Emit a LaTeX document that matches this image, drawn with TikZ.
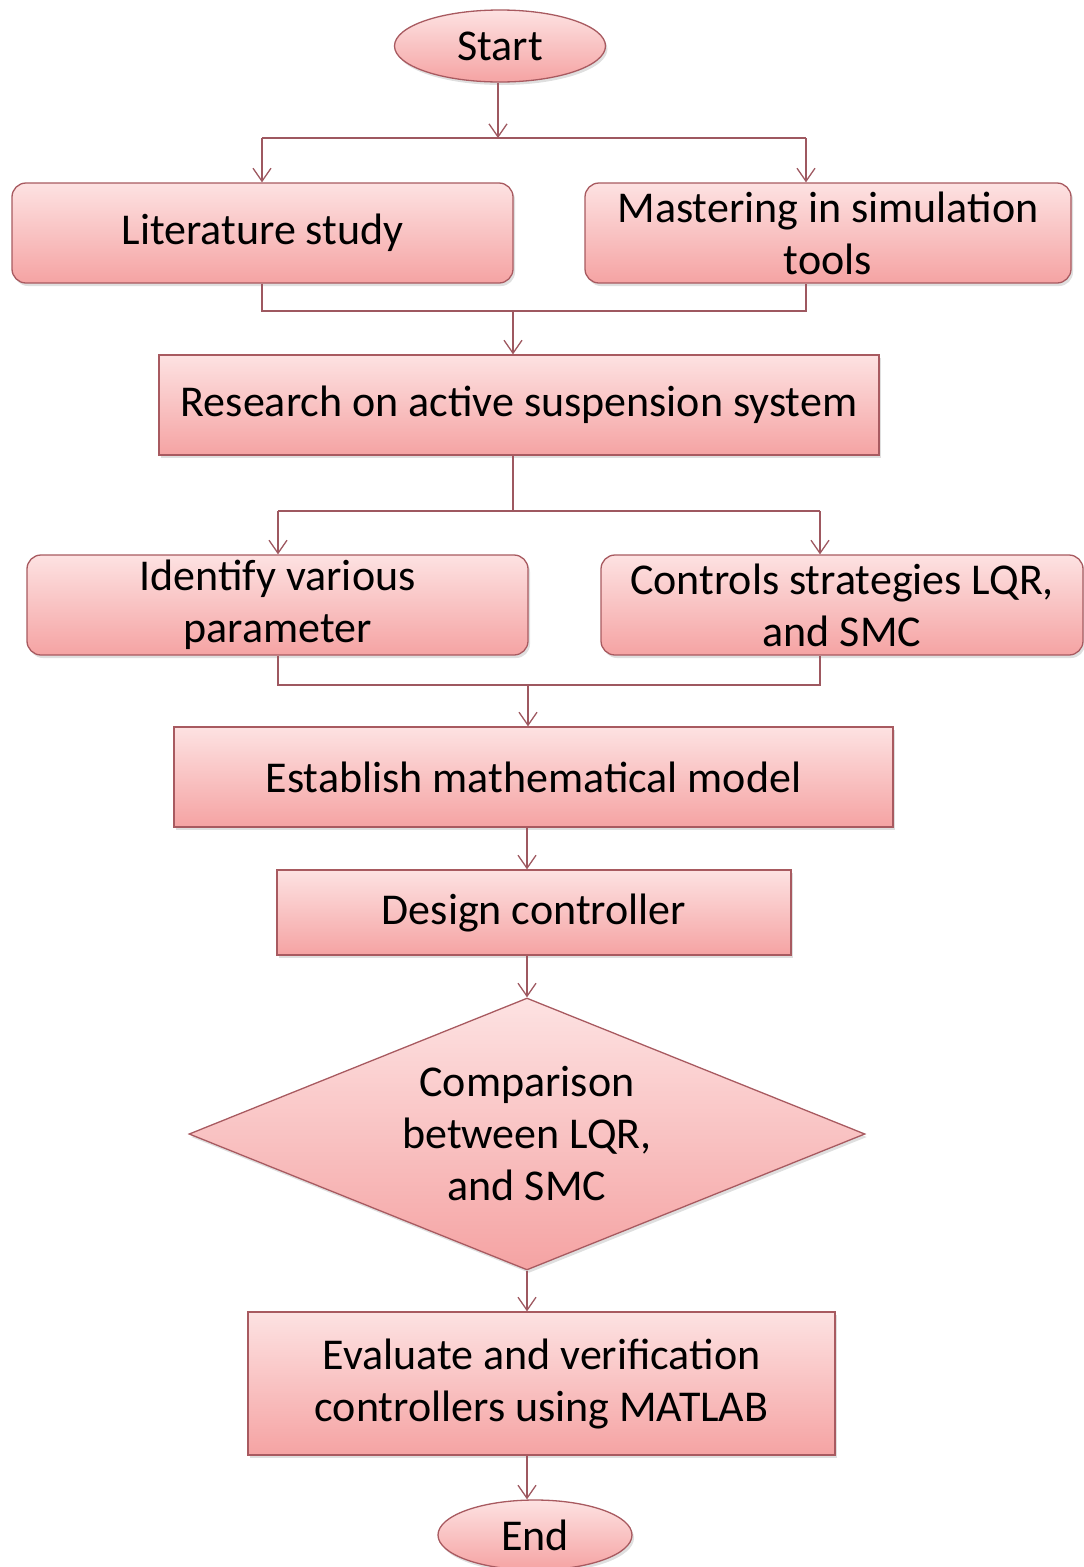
\documentclass[tikz,border=0pt]{standalone}
\usepackage{fontspec}
\setmainfont{Carlito}
\usetikzlibrary{arrows.meta,shapes.geometric,shadows}
\definecolor{ptop}{HTML}{FDE2E2}
\definecolor{pbot}{HTML}{F5A3A3}
\definecolor{bord}{HTML}{A85A60}
\definecolor{lnc}{HTML}{9E5860}
\begin{document}
\begin{tikzpicture}[x=1pt,y=-1pt,
  base/.style={draw=bord, line width=1.3pt, top color=ptop, bottom color=pbot,
    align=center, inner sep=0pt, font=\fontsize{44}{52}\selectfont,
    drop shadow={opacity=0.25, shadow xshift=2pt, shadow yshift=-3pt}},
  rbox/.style={base, rectangle, rounded corners=14pt},
  sbox/.style={base, rectangle},
  term/.style={base, ellipse},
  deci/.style={base, diamond, aspect=2.5},
  conn/.style={draw=lnc, line width=1.3pt},
  arr/.style={conn, -{Straight Barb[length=13pt,width=18pt,line width=1.3pt]}}
]
\useasboundingbox (0,0) rectangle (1084,1567);

\node[term, minimum width=211pt, minimum height=72pt] (start) at (500,46) {Start};
\node[rbox, minimum width=501pt, minimum height=100pt] (lit) at (262.5,233) {Literature study};
\node[rbox, minimum width=486pt, minimum height=100pt] (mast) at (828,233) {Mastering in simulation\\tools};
\node[sbox, minimum width=720pt, minimum height=100pt] (res) at (519,405) {Research on active suspension system};
\node[rbox, minimum width=501pt, minimum height=100pt] (iden) at (277.5,605) {Identify various\\parameter};
\node[rbox, minimum width=482pt, minimum height=100pt] (ctrl) at (842,605) {Controls strategies LQR,\\and SMC};
\node[sbox, minimum width=719pt, minimum height=100pt] (est) at (533.5,777) {Establish mathematical model};
\node[sbox, minimum width=514pt, minimum height=85pt] (des) at (534,912.5) {Design controller};
\node[deci, minimum width=676pt, minimum height=272pt] (cmp) at (527,1134) {Comparison\\between LQR,\\and SMC};
\node[sbox, minimum width=587pt, minimum height=143pt] (eval) at (541.5,1383.5) {Evaluate and verification\\controllers using MATLAB};
\node[term, minimum width=194pt, minimum height=70pt] (end) at (535,1535) {End};

% split 1
\coordinate (j1) at (498,138);
\coordinate (j1l) at (262,138);
\coordinate (j1r) at (806,138);
\draw[arr] (start.south -| j1) -- (j1);
\draw[conn] (j1l) -- (j1r);
\draw[arr] (j1l) -- (lit.north -| j1l);
\draw[arr] (j1r) -- (mast.north -| j1r);
% merge 1
\coordinate (m1l) at (262,311);
\coordinate (m1r) at (806,311);
\coordinate (m1) at (513,311);
\draw[conn] (lit.south -| m1l) -- (m1l) -- (m1r) -- (mast.south -| m1r);
\draw[arr] (m1) -- (res.north -| m1);
% split 2
\coordinate (j2) at (513,511);
\coordinate (j2l) at (278,511);
\coordinate (j2r) at (820,511);
\draw[conn] (res.south -| j2) -- (j2);
\draw[conn] (j2l) -- (j2r);
\draw[arr] (j2l) -- (iden.north -| j2l);
\draw[arr] (j2r) -- (ctrl.north -| j2r);
% merge 2
\coordinate (m2l) at (278,685);
\coordinate (m2r) at (820,685);
\coordinate (m2) at (528,685);
\draw[conn] (iden.south -| m2l) -- (m2l) -- (m2r) -- (ctrl.south -| m2r);
\draw[arr] (m2) -- (est.north -| m2);
% chain
\coordinate (cx) at (527,0);
\draw[arr] (est.south -| cx) -- (des.north -| cx);
\draw[arr] (des.south -| cx) -- (cmp.north);
\draw[arr] (cmp.south) -- (eval.north -| cmp.south);
\draw[arr] (eval.south -| cmp.south) -- (end.north -| cmp.south);
\end{tikzpicture}
\end{document}
